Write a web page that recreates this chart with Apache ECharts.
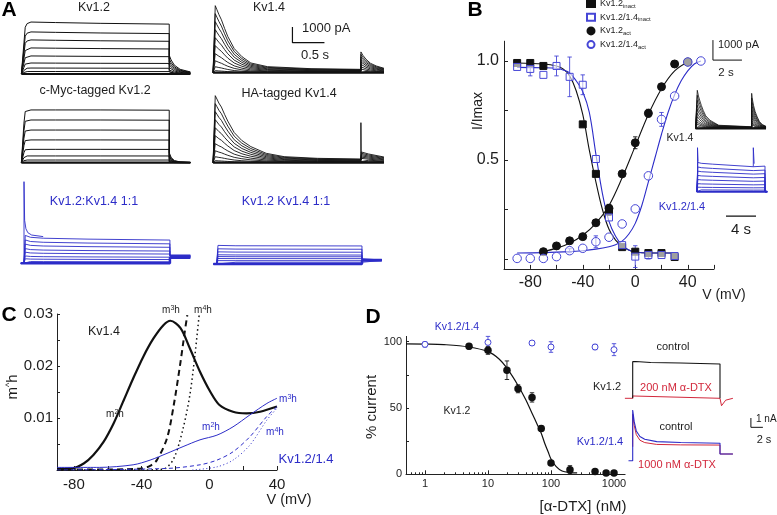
<!DOCTYPE html>
<html><head><meta charset="utf-8">
<script src="https://cdn.jsdelivr.net/npm/echarts@6/dist/echarts.min.js"></script>
<style>html,body{margin:0;padding:0;background:#fff}#c{width:777px;height:515px}</style>
</head><body><div id="c"></div>
<script>
// ---------------- DATA ----------------
// Panel A: current traces (time in s, current in nA)
const A_KV12_T = [-0.03, 0, 0.01, 0.03, 0.06, 0.12, 0.5, 1.2, 2.28, 2.28, 2.31, 2.36, 2.45, 2.61];
const A_KV12_SHAPE = [0, 0, 0.6, 0.9, 0.97, 1.0, 0.99, 0.975, 0.96, 0.36, 0.27, 0.17, 0.09, 0.04];
const A_KV12_AMP = [3.31, 2.68, 2.17, 1.66, 1.15, 0.70, 0.38, 0.16, 0];
const A_MYC_SHAPE = [0, 0, 0.75, 0.97, 1.0, 1.0, 1.0, 1.0, 0.995, 0.19, 0.1, 0.04, 0.015, 0.005];
const A_MYC_AMP = [3.36, 2.72, 2.08, 1.45, 0.85, 0.43, 0.17, 0];
const A_KV14_T = [-0.03, 0, 0.004, 0.03, 0.06, 0.1, 0.15, 0.2, 0.3, 0.42, 0.56, 0.82, 1.5, 2.28, 2.28, 2.31, 2.36, 2.43, 2.52, 2.64];
const A_KV14_SHAPE = [0, 0, 1.0, 0.94, 0.87, 0.79, 0.66, 0.54, 0.36, 0.24, 0.145, 0.09, 0.06, 0.05, 0.31, 0.26, 0.2, 0.14, 0.1, 0.066];
const A_KV14_AMP = [4.27, 3.76, 3.25, 2.74, 2.23, 1.72, 1.21, 0.76, 0.38, 0.13, 0];
const A_HA_T = [-0.03, 0, 0.004, 0.03, 0.06, 0.1, 0.15, 0.2, 0.3, 0.42, 0.56, 0.8, 1.08, 1.6, 2.28, 2.285, 2.4, 2.64];
const A_HA_SHAPE = [0, 0, 1.0, 0.95, 0.89, 0.83, 0.72, 0.62, 0.45, 0.33, 0.24, 0.14, 0.09, 0.065, 0.055, 0.16, 0.13, 0.085];
const A_HA_ARTIFACT = [[2.28, 0.2], [2.28, 2.55], [2.283, 0.6]];
const A_MIX1_T = [-0.05, 0, 0.02, 0.1, 0.3, 1.0, 2.28, 2.28, 2.6];
const A_MIX1_SHAPE = [0, 0, 1.2, 1.12, 1.08, 1.04, 1.0];
const A_MIX1_AMP = [1.48, 1.24, 1.02, 0.78, 0.59, 0.39, 0.24, 0.10, 0];
const A_MIX1_TAIL = [0.53, 0.5, 0.48, 0.46, 0.44, 0.42, 0.4, 0.38, 0.36];
const A_MIX1_SPIKE = [[0, 0], [0, 5.2], [0.01, 2.74], [0.03, 2.2], [0.06, 1.95], [0.12, 1.8], [0.3, 1.7]];
const A_MIX2_T = [-0.05, 0, 0.02, 0.3, 2.27, 2.27, 2.58];
const A_MIX2_SHAPE = [0, 0, 1.03, 1.01, 1.0];
const A_MIX2_AMP = [1.15, 0.94, 0.75, 0.57, 0.46, 0.34, 0.21, 0.11, 0];
const A_MIX2_TAIL = [0.3, 0.29, 0.28, 0.27, 0.26, 0.25, 0.24, 0.23, 0.22];

// Panel B: I/Imax vs V (mV)
const B_INACT12 = [[-90,0.99],[-80,0.99],[-70,0.975],[-40,0.68],[-30,0.43],[-20,0.24],[-10,0.06],[0,0.037],[10,0.03],[20,0.03],[30,0.01]];
const B_INACT1214 = [[-90,0.97],[-80,0.96],[-70,0.93],[-60,0.975],[-50,0.92],[-40,0.88],[-30,0.505],[-20,0.21],[-10,0.07],[0,0.012],[10,0.02],[20,0.02],[30,0.015]];
const B_ACT12 = [[-70,0.037],[-60,0.066],[-50,0.092],[-40,0.113],[-30,0.183],[-20,0.256],[-10,0.43],[0,0.587],[10,0.736],[20,0.87],[30,0.985],[40,0.995]];
const B_ACT1214 = [[-90,0.003],[-80,0.003],[-70,0.003],[-60,0.012],[-50,0.042],[-40,0.054],[-30,0.087],[-20,0.11],[-10,0.177],[0,0.253],[10,0.42],[20,0.705],[30,0.823],[40,0.995],[50,1.0]];
const B_ERR_INACT12 = [[-20,0.24,0.02],[30,0.01,0.01]];
const B_ERR_INACT1214 = [[-80,0.96,0.035],[-60,0.975,0.05],[-50,0.92,0.1],[-40,0.88,0.05],[0,0.012,0.055],[10,0.02,0.02]];
const B_ERR_ACT12 = [[-20,0.256,0.02],[0,0.587,0.03],[10,0.736,0.02],[20,0.87,0.015]];
const B_ERR_ACT1214 = [[-50,0.042,0.01],[-30,0.087,0.03],[20,0.705,0.035]];
const B_FIT_INACT12 = [[-90,0.99],[-70,0.985],[-60,0.975],[-55,0.96],[-50,0.925],[-45,0.85],[-40,0.73],[-35,0.55],[-30,0.39],[-25,0.25],[-20,0.15],[-15,0.095],[-10,0.065],[-5,0.045],[0,0.035],[10,0.03],[30,0.03]];
const B_FIT_INACT1214 = [[-90,0.968],[-70,0.966],[-60,0.963],[-55,0.955],[-50,0.94],[-45,0.9],[-40,0.845],[-35,0.74],[-30,0.53],[-25,0.33],[-20,0.19],[-15,0.115],[-10,0.07],[-5,0.045],[0,0.035],[10,0.03],[30,0.03]];
const B_FIT_ACT12 = [[-70,0.037],[-60,0.055],[-50,0.08],[-40,0.12],[-30,0.18],[-20,0.27],[-10,0.41],[0,0.57],[10,0.73],[20,0.86],[30,0.95],[40,0.995]];
const B_FIT_ACT1214 = [[-90,0.03],[-70,0.032],[-50,0.037],[-40,0.042],[-30,0.05],[-20,0.062],[-15,0.072],[-10,0.09],[-5,0.125],[0,0.18],[5,0.27],[10,0.39],[15,0.51],[20,0.63],[25,0.74],[30,0.83],[35,0.9],[40,0.95],[45,0.985],[50,1.0]];
const B_XTICKS = [-80, -40, 0, 40];
const B_YLABELS = [0.5, 1.0];
const B_YTICKS = [0, 0.25, 0.5, 0.75, 1.0];
// Panel B insets
const B_K14_T = [-0.1, 0, 0.02, 0.1, 0.2, 0.3, 0.43, 0.6, 0.9, 1.5, 3.77, 3.77, 3.8, 3.9, 4.0, 4.15, 4.3, 4.5, 4.76];
const B_K14_SHAPE = [0, 0, 1.0, 0.85, 0.72, 0.6, 0.47, 0.33, 0.21, 0.08, 0.04, 0.92, 0.8, 0.6, 0.45, 0.3, 0.18, 0.1, 0.05];
const B_K14_AMP = [1.9, 1.65, 1.4, 1.15, 0.95, 0.75, 0.58, 0.42, 0.3, 0.2, 0.1, 0];
const B_MIX_T = [-0.1, 0, 0.05, 0.5, 2, 7.44, 7.5, 9.0, 9.0, 9.3];
const B_MIX_SHAPE = [0, 0, 1.03, 1.0, 0.97, 0.88, 0.95, 0.9, 0, 0];
const B_MIX_AMP = [1.42, 1.2, 1.0, 0.79, 0.59, 0.39, 0.22, 0.09, 0];
const B_MIX_SPIKE_ON = [[0, 0], [0, 2.2], [0.08, 1.5]];
const B_MIX_SPIKE_OFF = [[7.44, 1.25], [7.44, 2.2], [7.55, 1.4]];

// Panel C: m^h vs V (mV)
const C_K14_M2 = [[-90,0.0002],[-81,0.0003],[-74,0.0013],[-68.5,0.0029],[-62.5,0.0054],[-56.5,0.009],[-51,0.0131],[-45,0.0176],[-39,0.0218],[-33,0.0253],[-27,0.0279],[-23,0.0287],[-17,0.0273],[-11.5,0.0234],[-5.5,0.0189],[0.5,0.0151],[6,0.0125],[14,0.0112],[22,0.0109],[30,0.0112],[40,0.0122]];
const C_K14_M3 = [[-90,0.0001],[-60,0.0001],[-40,0.0003],[-35,0.0008],[-31,0.0019],[-25,0.0061],[-21,0.0125],[-17,0.0208],[-14.5,0.0266],[-13,0.0298]];
const C_K14_M4 = [[-90,0.0],[-40,0.0],[-27,0.0002],[-21,0.0022],[-15.5,0.008],[-11.5,0.0144],[-8.5,0.0221],[-6,0.0298]];
const C_MIX_M2 = [[-90,0.0005],[-65,0.0005],[-45,0.001],[-35,0.0019],[-25,0.0032],[-15.5,0.0045],[-5.5,0.0058],[4.5,0.0067],[14,0.0083],[24,0.0106],[34,0.0128],[40,0.0138]];
const C_MIX_M3 = [[-90,0.0],[-25,0.0003],[-5.5,0.001],[4.5,0.0019],[14,0.0035],[24,0.0064],[34,0.0103],[40,0.0122]];
const C_MIX_M4 = [[-10,0.0],[4.5,0.0006],[14,0.0019],[24,0.0048],[34,0.0096],[40,0.0119]];
const C_XLABELS = [-80, -40, 0, 40];
const C_XTICKS = [-80, -60, -40, -20, 0, 20, 40];
const C_YLABELS = [0.01, 0.02, 0.03];
const C_YTICKS = [0.005, 0.01, 0.015, 0.02, 0.025, 0.03];

// Panel D: % current vs [a-DTX] (nM)   [x, y, err]
const D_KV12 = [[5,96.5,2],[10,93.5,3],[20,78.5,7],[30,64.5,3],[50,58,3.5],[70,34.5,2],[100,8.5,1.5],[200,3.5,3],[500,2.2,1],[750,1.0,0.5],[1000,1.0,0.5]];
const D_KV1214 = [[1,98,2],[10,99.5,4.5],[50,99,1.5],[100,96,4],[500,96,2],[1000,94,4.5]];
const D_FIT = [[0.5,98.3],[1,98.2],[2,97.8],[5,96],[10,92.5],[15,87],[20,80],[30,67],[40,56],[50,46],[60,38],[70,31],[80,23],[90,17],[100,11.5],[120,6],[150,2.5],[200,1.3],[260,1]];
const D_XLABELS = [1, 10, 100, 1000];
const D_XMINOR = [0.6,0.7,0.8,0.9,2,3,4,5,6,7,8,9,20,30,40,50,60,70,80,90,200,300,400,500,600,700,800,900];
const D_YLABELS = [0, 50, 100];
const D_YTICKS = [0, 25, 50, 75, 100];
// Panel D insets (time s, current nA)
const D_K12_CTRL = [[0,0],[0,3.94],[0.5,3.95],[3,3.85],[8,3.8],[14.55,3.69],[14.55,0]];
const D_K12_DTX = [[-1.3,0],[0,0],[0,0.25],[0.2,0.05],[14.55,0],[14.8,-0.8],[15.5,-0.2],[16.7,0]];
const D_MIX_CTRL = [[-0.7,0],[0,0],[0,5.45],[0.25,4.2],[0.6,3.2],[1.2,2.6],[2,2.3],[4,2.05],[8,1.95],[14.55,1.87],[14.55,0.72],[16.7,0.72]];
const D_MIX_DTX = [[0,1.5],[0,5.0],[0.25,3.8],[0.6,2.8],[1.2,2.2],[2,1.95],[4,1.75],[8,1.7],[14.55,1.68],[14.55,0.72],[16.7,0.72]];

// ---------------- STYLE / LAYOUT ----------------
const FONT = 'Liberation Sans, Arial, Helvetica, sans-serif';
const BLACK = '#111111', TXT = '#1d1d1d', BLUE = '#2c2cc8', LBLUE = '#4646d6', RED = '#d2283c';

const grids = [], xAxes = [], yAxes = [], series = [];
function hiddenGrid(g) {
  const gi = grids.length;
  grids.push({left: g.x0 + g.tmin * g.sx, top: g.base - g.ymax * g.sy, width: (g.tmax - g.tmin) * g.sx, height: (g.ymax - g.ymin) * g.sy});
  xAxes.push({gridIndex: gi, type: 'value', min: g.tmin, max: g.tmax, show: false});
  yAxes.push({gridIndex: gi, type: 'value', min: g.ymin, max: g.ymax, show: false});
  return {x: xAxes.length - 1, y: yAxes.length - 1};
}
function line(ax, data, color, width, extra) {
  series.push(Object.assign({type: 'line', xAxisIndex: ax.x, yAxisIndex: ax.y, data: data, showSymbol: false, symbol: 'none', silent: true,
    lineStyle: {color: color, width: width}, itemStyle: {color: color}, z: 2}, extra || {}));
}
function shapeTrace(T, S, amp) { return T.map((t, i) => [t, S[i] * amp]); }
function tailTrace(T, S, amp, tail) { return T.map((t, i) => [t, i < S.length ? S[i] * amp : tail]); }
function errorBars(ax, data, color) {
  series.push({type: 'custom', xAxisIndex: ax.x, yAxisIndex: ax.y, silent: true, z: 3, clip: false,
    data: data.map(d => [d[0], d[1] - d[2], d[1] + d[2]]), encode: {x: 0, y: [1, 2]},
    renderItem: function (p, api) {
      const a = api.coord([api.value(0), api.value(1)]), b = api.coord([api.value(0), api.value(2)]);
      const st = {stroke: color, lineWidth: 0.9, fill: null};
      return {type: 'group', children: [
        {type: 'line', shape: {x1: a[0], y1: a[1], x2: b[0], y2: b[1]}, style: st},
        {type: 'line', shape: {x1: a[0] - 2.2, y1: a[1], x2: a[0] + 2.2, y2: a[1]}, style: st},
        {type: 'line', shape: {x1: b[0] - 2.2, y1: b[1], x2: b[0] + 2.2, y2: b[1]}, style: st}]};
    }});
}
const AXL = {show: true, onZero: false, lineStyle: {color: '#222', width: 1}};

// ---- Panel A ----
const SX = 64, SY = 15.7;
const axKv12 = hiddenGrid({x0: 23.3, base: 74, tmin: -0.03, tmax: 2.61, ymin: -0.2, ymax: 4.6, sx: SX, sy: SY});
A_KV12_AMP.forEach(a => line(axKv12, shapeTrace(A_KV12_T, A_KV12_SHAPE, a), BLACK, a === 0 ? 2.2 : 1));
const axMyc = hiddenGrid({x0: 23.3, base: 162.7, tmin: -0.03, tmax: 2.61, ymin: -0.2, ymax: 4.6, sx: SX, sy: SY});
A_MYC_AMP.forEach(a => line(axMyc, shapeTrace(A_KV12_T, A_MYC_SHAPE, a), BLACK, a === 0 ? 2.2 : 1));
const axKv14 = hiddenGrid({x0: 215, base: 72.7, tmin: -0.03, tmax: 2.64, ymin: -0.2, ymax: 4.6, sx: SX, sy: SY});
A_KV14_AMP.forEach(a => line(axKv14, shapeTrace(A_KV14_T, A_KV14_SHAPE, a), BLACK, a === 0 ? 2.2 : 0.9));
line(axKv14, [[1.21, 2.91], [1.21, 1.91], [1.71, 1.91]], BLACK, 1.2);
const axHa = hiddenGrid({x0: 215, base: 162.7, tmin: -0.03, tmax: 2.64, ymin: -0.2, ymax: 4.6, sx: SX, sy: SY});
A_KV14_AMP.forEach(a => line(axHa, shapeTrace(A_HA_T, A_HA_SHAPE, a), BLACK, a === 0 ? 2.2 : 0.9));
line(axHa, A_HA_ARTIFACT, BLACK, 0.9);
const axMix1 = hiddenGrid({x0: 24, base: 263.3, tmin: -0.05, tmax: 2.6, ymin: -0.2, ymax: 5.4, sx: SX, sy: SY});
A_MIX1_AMP.forEach((a, i) => line(axMix1, tailTrace(A_MIX1_T, A_MIX1_SHAPE, a, A_MIX1_TAIL[i]), BLUE, a === 0 ? 2.5 : 0.9));
line(axMix1, A_MIX1_SPIKE, BLUE, 0.9);
const axMix2 = hiddenGrid({x0: 216.7, base: 264, tmin: -0.05, tmax: 2.58, ymin: -0.2, ymax: 2, sx: SX, sy: SY});
A_MIX2_AMP.forEach((a, i) => line(axMix2, tailTrace(A_MIX2_T, A_MIX2_SHAPE, a, A_MIX2_TAIL[i]), BLUE, a === 0 ? 2.5 : 0.9));

// ---- Panel B main ----
grids.push({left: 504, top: 41.2, width: 210, height: 227.7});
const gB = grids.length - 1;
xAxes.push({gridIndex: gB, type: 'value', min: -100, max: 60, interval: 20, axisLine: AXL,
  axisTick: {inside: true, length: 4, lineStyle: {color: '#222'}},
  axisLabel: {fontSize: 16, color: TXT, margin: 6, formatter: v => (B_XTICKS.indexOf(v) >= 0 ? String(v) : '')},
  splitLine: {show: false}});
yAxes.push({gridIndex: gB, type: 'value', min: -0.05, max: 1.1, axisLine: AXL,
  axisTick: {show: true, inside: true, length: 4, customValues: B_YTICKS, lineStyle: {color: '#222'}},
  axisLabel: {fontSize: 16, color: TXT, margin: 5, customValues: B_YLABELS, formatter: v => v.toFixed(1)},
  splitLine: {show: false}});
const axB = {x: xAxes.length - 1, y: yAxes.length - 1};
line(axB, B_FIT_INACT12, BLACK, 1.1, {smooth: 0.35});
line(axB, B_FIT_INACT1214, BLUE, 1.1, {smooth: 0.35});
line(axB, B_FIT_ACT12, BLACK, 1.1, {smooth: 0.35});
line(axB, B_FIT_ACT1214, BLUE, 1.1, {smooth: 0.35});
errorBars(axB, B_ERR_INACT12, BLACK);
errorBars(axB, B_ERR_INACT1214, LBLUE);
errorBars(axB, B_ERR_ACT12, BLACK);
errorBars(axB, B_ERR_ACT1214, LBLUE);
const sc = (name, data, symbol, size, fill, stroke, bw) => series.push({type: 'scatter', name: name, xAxisIndex: axB.x, yAxisIndex: axB.y,
  data: data, symbol: symbol, symbolSize: size, itemStyle: {color: fill, borderColor: stroke, borderWidth: bw, opacity: 1}, z: 4, silent: true});
sc('inact12', B_INACT12, 'rect', 7, BLACK, BLACK, 1);
sc('inact1214', B_INACT1214, 'rect', 7, 'rgba(255,255,255,0.6)', LBLUE, 1);
sc('act12', B_ACT12, 'circle', 8, BLACK, BLACK, 1);
sc('act1214', B_ACT1214, 'circle', 8.5, 'rgba(255,255,255,0.6)', LBLUE, 1);

// ---- Panel B insets ----
const axBK = hiddenGrid({x0: 697, base: 128.3, tmin: -0.1, tmax: 4.8, ymin: -0.2, ymax: 4.5, sx: 14.5, sy: 20});
B_K14_AMP.forEach(a => line(axBK, shapeTrace(B_K14_T, B_K14_SHAPE, a), BLACK, a === 0 ? 2.2 : 0.8));
line(axBK, [[1.1, 4.41], [1.1, 3.41], [3.1, 3.41]], BLACK, 1);
const axBM = hiddenGrid({x0: 697.5, base: 191.7, tmin: -0.1, tmax: 9.4, ymin: -1.3, ymax: 2.4, sx: 7.5, sy: 20});
B_MIX_AMP.forEach(a => line(axBM, shapeTrace(B_MIX_T, B_MIX_SHAPE, a), BLUE, a === 0 ? 2 : 0.9));
line(axBM, B_MIX_SPIKE_ON, BLUE, 0.9);
line(axBM, B_MIX_SPIKE_OFF, BLUE, 0.9);
line(axBM, [[3.8, -1.22], [7.8, -1.22]], BLACK, 1.4);

// ---- Panel C ----
grids.push({left: 57, top: 314, width: 220, height: 156});
const gC = grids.length - 1;
xAxes.push({gridIndex: gC, type: 'value', min: -90, max: 40, axisLine: AXL,
  axisTick: {inside: true, length: 4, customValues: C_XTICKS, lineStyle: {color: '#222'}},
  axisLabel: {fontSize: 15, color: TXT, margin: 7, customValues: C_XLABELS},
  splitLine: {show: false}});
yAxes.push({gridIndex: gC, type: 'value', min: 0, max: 0.03, axisLine: AXL,
  axisTick: {show: true, inside: true, length: 3, customValues: C_YTICKS, lineStyle: {color: '#222'}},
  axisLabel: {fontSize: 15, color: TXT, margin: 4, customValues: C_YLABELS, formatter: v => v.toFixed(2)},
  splitLine: {show: false}});
const axC = {x: xAxes.length - 1, y: yAxes.length - 1};
line(axC, C_K14_M2, BLACK, 2.2, {smooth: 0.3});
line(axC, C_K14_M3, BLACK, 2, {smooth: 0.3, lineStyle: {color: BLACK, width: 2, type: [6, 4]}});
line(axC, C_K14_M4, BLACK, 1.5, {smooth: 0.3, lineStyle: {color: BLACK, width: 1.5, type: [1.5, 3]}});
line(axC, C_MIX_M2, BLUE, 1, {smooth: 0.3});
line(axC, C_MIX_M3, BLUE, 1, {smooth: 0.3, lineStyle: {color: BLUE, width: 1, type: [4, 3]}});
line(axC, C_MIX_M4, BLUE, 1, {smooth: 0.3, lineStyle: {color: BLUE, width: 1, type: [1, 2.5]}});

// ---- Panel D ----
grids.push({left: 406, top: 336.4, width: 219.1, height: 137.9});
const gD = grids.length - 1;
xAxes.push({gridIndex: gD, type: 'log', logBase: 10, min: 0.5, max: 1500, position: 'bottom', axisLine: AXL,
  axisTick: {inside: true, length: 4, customValues: D_XLABELS, lineStyle: {color: '#222'}},
  axisLabel: {fontSize: 11, color: TXT, margin: 4, customValues: D_XLABELS, formatter: v => String(v)},
  splitLine: {show: false}, minorTick: {show: false}});
const axDx = xAxes.length - 1;
xAxes.push({gridIndex: gD, type: 'log', logBase: 10, min: 0.5, max: 1500, position: 'bottom', offset: 0,
  axisLine: {show: false, onZero: false}, axisLabel: {show: false},
  axisTick: {inside: true, length: 2, customValues: D_XMINOR, lineStyle: {color: '#222'}},
  splitLine: {show: false}});
yAxes.push({gridIndex: gD, type: 'value', min: 0, max: 104, axisLine: AXL,
  axisTick: {show: true, inside: true, length: 3, customValues: D_YTICKS, lineStyle: {color: '#222'}},
  axisLabel: {fontSize: 11, color: TXT, margin: 4, customValues: D_YLABELS},
  splitLine: {show: false}});
const axD = {x: axDx, y: yAxes.length - 1};
line(axD, D_FIT, BLACK, 1.2, {smooth: 0.35});
errorBars(axD, D_KV12, BLACK);
errorBars(axD, D_KV1214, LBLUE);
series.push({type: 'scatter', xAxisIndex: axD.x, yAxisIndex: axD.y, data: D_KV12, encode: {x: 0, y: 1},
  symbol: 'circle', symbolSize: 7.5, itemStyle: {color: BLACK, opacity: 1}, z: 4, silent: true});
series.push({type: 'scatter', xAxisIndex: axD.x, yAxisIndex: axD.y, data: D_KV1214, encode: {x: 0, y: 1},
  symbol: 'circle', symbolSize: 6, itemStyle: {color: '#fff', borderColor: LBLUE, borderWidth: 1, opacity: 1}, z: 4, silent: true});

// ---- Panel D insets ----
const axDU = hiddenGrid({x0: 632.7, base: 398.3, tmin: -1.4, tmax: 16.8, ymin: -1.2, ymax: 4.3, sx: 6, sy: 9.3});
line(axDU, D_K12_DTX, RED, 1);
line(axDU, D_K12_CTRL, BLACK, 1.1);
const axDL = hiddenGrid({x0: 632.7, base: 460.7, tmin: -1, tmax: 22, ymin: -0.6, ymax: 5.7, sx: 6, sy: 9.3});
line(axDL, D_MIX_DTX, RED, 1);
line(axDL, D_MIX_CTRL, BLUE, 1.1);
line(axDL, [[19.7, 4.59], [19.7, 3.59], [21.7, 3.59]], BLACK, 1);

// ---------------- TEXT ----------------
function txt(x, y, text, size, color, opts) {
  const o = opts || {};
  return {type: 'text', x: x, y: y, rotation: o.rot || 0, silent: true, z: 10,
    style: {text: text, fill: color || TXT, font: (o.bold ? 'bold ' : '') + size + 'px ' + FONT,
      textAlign: o.align || 'center', align: o.align || 'center', textVerticalAlign: 'middle', verticalAlign: 'middle', rich: o.rich}};
}
const supRich = c => ({m: {fontSize: 10, fill: c, fontFamily: FONT}, s: {fontSize: 7, fill: c, fontFamily: FONT, verticalAlign: 'top', lineHeight: 10}});
const graphic = [
  txt(9, 10, 'A', 21, '#000', {bold: true}),
  txt(94, 8, 'Kv1.2', 12.5), txt(269, 8, 'Kv1.4', 12.5),
  txt(302, 28, '1000 pA', 13, TXT, {align: 'left'}), txt(315, 55, '0.5 s', 13),
  txt(95, 91, 'c-Myc-tagged Kv1.2', 12.5), txt(289, 94, 'HA-tagged Kv1.4', 12.5),
  txt(94, 202, 'Kv1.2:Kv1.4 1:1', 12.5, BLUE), txt(286, 202, 'Kv1.2 Kv1.4 1:1', 12.5, BLUE),
  txt(475, 10, 'B', 21, '#000', {bold: true}),
  txt(478, 111, 'I/Imax', 14, TXT, {rot: Math.PI / 2}),
  txt(724, 295, 'V (mV)', 14),
  txt(718, 45, '1000 pA', 11, TXT, {align: 'left'}), txt(726, 73, '2 s', 11.5),
  txt(680, 138, 'Kv1.4', 10.5), txt(682, 207, 'Kv1.2/1.4', 11, BLUE), txt(741, 230, '4 s', 15),
  txt(9, 315, 'C', 21, '#000', {bold: true}),
  txt(104, 332, 'Kv1.4', 12.5),
  txt(171, 310, '{m|m}{s|3}{m|h}', 10, TXT, {rich: supRich(TXT)}),
  txt(203, 310, '{m|m}{s|4}{m|h}', 10, TXT, {rich: supRich(TXT)}),
  txt(115, 414, '{m|m}{s|2}{m|h}', 10, TXT, {rich: supRich(TXT)}),
  txt(211, 427, '{m|m}{s|2}{m|h}', 10, BLUE, {rich: supRich(BLUE)}),
  txt(288, 399, '{m|m}{s|3}{m|h}', 10, BLUE, {rich: supRich(BLUE)}),
  txt(275, 432, '{m|m}{s|4}{m|h}', 10, BLUE, {rich: supRich(BLUE)}),
  txt(306, 459, 'Kv1.2/1.4', 13, BLUE),
  txt(289, 500, 'V (mV)', 14.5),
  txt(13, 387, '{a|m}{b|^}{a|h}', 15, TXT, {rot: Math.PI / 2,
    rich: {a: {fontSize: 15, fill: TXT, fontFamily: FONT}, b: {fontSize: 9, fill: TXT, fontFamily: FONT, verticalAlign: 'top', lineHeight: 14}}}),
  txt(373, 317, 'D', 21, '#000', {bold: true}),
  txt(457, 327, 'Kv1.2/1.4', 10.5, BLUE), txt(457, 411, 'Kv1.2', 10.5),
  txt(372, 407, '% current', 15, TXT, {rot: Math.PI / 2}),
  txt(583, 507, '[\u03b1-DTX] (nM)', 15),
  txt(673, 347, 'control', 11), txt(607, 387, 'Kv1.2', 11), txt(676, 388, '200 nM \u03b1-DTX', 11, RED),
  txt(676, 427, 'control', 11), txt(600, 442, 'Kv1.2/1.4', 11, BLUE), txt(677, 465, '1000 nM \u03b1-DTX', 11, RED),
  txt(756, 419, '1 nA', 10, TXT, {align: 'left'}), txt(764, 440, '2 s', 11)
];

const LEG = {inact12: ['Kv1.2', 'inact'], inact1214: ['Kv1.2/1.4', 'inact'], act12: ['Kv1.2', 'act'], act1214: ['Kv1.2/1.4', 'act']};
const option = {
  animation: false,
  backgroundColor: '#fff',
  textStyle: {fontFamily: FONT},
  grid: grids.map(g => Object.assign({outerBoundsMode: 'none', containLabel: false}, g)),
  xAxis: xAxes, yAxis: yAxes, series: series, graphic: graphic,
  legend: {data: ['inact12', 'inact1214', 'act12', 'act1214'], orient: 'vertical', left: 586, top: -1, padding: 0,
    itemWidth: 8, itemHeight: 7, itemGap: 3.7, selectedMode: false,
    formatter: n => '{a|' + LEG[n][0] + '}{s|' + LEG[n][1] + '}',
    textStyle: {fontSize: 9, color: TXT, rich: {a: {fontSize: 9, lineHeight: 11, fontFamily: FONT, color: TXT}, s: {fontSize: 6, lineHeight: 11, verticalAlign: 'bottom', fontFamily: FONT, color: TXT}}}}
};
const chart = echarts.init(document.getElementById('c'), null, {renderer: 'canvas'});
chart.setOption(option);
</script></body></html>
